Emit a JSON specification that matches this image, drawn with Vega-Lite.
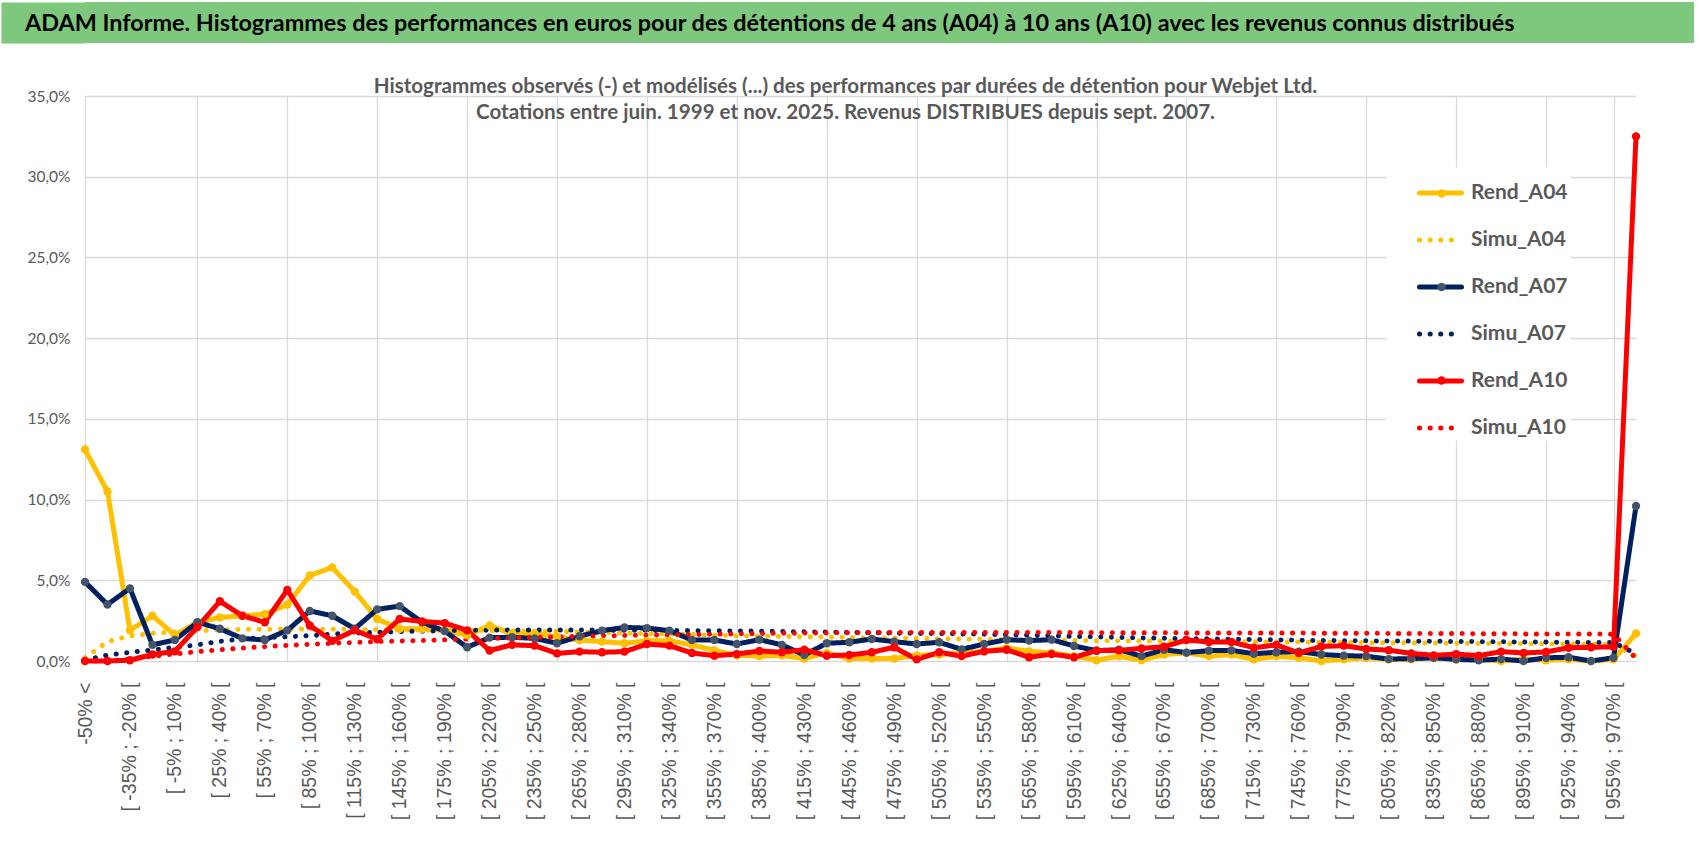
{
  "$schema": "https://vega.github.io/schema/vega-lite/v6.json",
  "background": "white",
  "padding": {"left": 2, "top": 2, "right": 3, "bottom": 0},
  "spacing": 34,
  "config": {"view": {"stroke": null}},
  "datasets": {
    "cats": [
      {"i":0,"c":"-50% <"},{"i":1,"c":"[ -50% ; -35% ["},{"i":2,"c":"[ -35% ; -20% ["},{"i":3,"c":"[ -20% ; -5% ["},{"i":4,"c":"[ -5% ; 10% ["},
      {"i":5,"c":"[ 10% ; 25% ["},{"i":6,"c":"[ 25% ; 40% ["},{"i":7,"c":"[ 40% ; 55% ["},{"i":8,"c":"[ 55% ; 70% ["},{"i":9,"c":"[ 70% ; 85% ["},
      {"i":10,"c":"[ 85% ; 100% ["},{"i":11,"c":"[ 100% ; 115% ["},{"i":12,"c":"[ 115% ; 130% ["},{"i":13,"c":"[ 130% ; 145% ["},{"i":14,"c":"[ 145% ; 160% ["},
      {"i":15,"c":"[ 160% ; 175% ["},{"i":16,"c":"[ 175% ; 190% ["},{"i":17,"c":"[ 190% ; 205% ["},{"i":18,"c":"[ 205% ; 220% ["},{"i":19,"c":"[ 220% ; 235% ["},
      {"i":20,"c":"[ 235% ; 250% ["},{"i":21,"c":"[ 250% ; 265% ["},{"i":22,"c":"[ 265% ; 280% ["},{"i":23,"c":"[ 280% ; 295% ["},{"i":24,"c":"[ 295% ; 310% ["},
      {"i":25,"c":"[ 310% ; 325% ["},{"i":26,"c":"[ 325% ; 340% ["},{"i":27,"c":"[ 340% ; 355% ["},{"i":28,"c":"[ 355% ; 370% ["},{"i":29,"c":"[ 370% ; 385% ["},
      {"i":30,"c":"[ 385% ; 400% ["},{"i":31,"c":"[ 400% ; 415% ["},{"i":32,"c":"[ 415% ; 430% ["},{"i":33,"c":"[ 430% ; 445% ["},{"i":34,"c":"[ 445% ; 460% ["},
      {"i":35,"c":"[ 460% ; 475% ["},{"i":36,"c":"[ 475% ; 490% ["},{"i":37,"c":"[ 490% ; 505% ["},{"i":38,"c":"[ 505% ; 520% ["},{"i":39,"c":"[ 520% ; 535% ["},
      {"i":40,"c":"[ 535% ; 550% ["},{"i":41,"c":"[ 550% ; 565% ["},{"i":42,"c":"[ 565% ; 580% ["},{"i":43,"c":"[ 580% ; 595% ["},{"i":44,"c":"[ 595% ; 610% ["},
      {"i":45,"c":"[ 610% ; 625% ["},{"i":46,"c":"[ 625% ; 640% ["},{"i":47,"c":"[ 640% ; 655% ["},{"i":48,"c":"[ 655% ; 670% ["},{"i":49,"c":"[ 670% ; 685% ["},
      {"i":50,"c":"[ 685% ; 700% ["},{"i":51,"c":"[ 700% ; 715% ["},{"i":52,"c":"[ 715% ; 730% ["},{"i":53,"c":"[ 730% ; 745% ["},{"i":54,"c":"[ 745% ; 760% ["},
      {"i":55,"c":"[ 760% ; 775% ["},{"i":56,"c":"[ 775% ; 790% ["},{"i":57,"c":"[ 790% ; 805% ["},{"i":58,"c":"[ 805% ; 820% ["},{"i":59,"c":"[ 820% ; 835% ["},
      {"i":60,"c":"[ 835% ; 850% ["},{"i":61,"c":"[ 850% ; 865% ["},{"i":62,"c":"[ 865% ; 880% ["},{"i":63,"c":"[ 880% ; 895% ["},{"i":64,"c":"[ 895% ; 910% ["},
      {"i":65,"c":"[ 910% ; 925% ["},{"i":66,"c":"[ 925% ; 940% ["},{"i":67,"c":"[ 940% ; 955% ["},{"i":68,"c":"[ 955% ; 970% ["},{"i":69,"c":"970% <"}
    ],
    "pts": [
      {"i":0,"s":"Rend_A04","v":13.1},{"i":1,"s":"Rend_A04","v":10.5},{"i":2,"s":"Rend_A04","v":1.9},{"i":3,"s":"Rend_A04","v":2.8},{"i":4,"s":"Rend_A04","v":1.6},
      {"i":5,"s":"Rend_A04","v":2.4},{"i":6,"s":"Rend_A04","v":2.7},{"i":7,"s":"Rend_A04","v":2.8},{"i":8,"s":"Rend_A04","v":2.9},{"i":9,"s":"Rend_A04","v":3.5},
      {"i":10,"s":"Rend_A04","v":5.3},{"i":11,"s":"Rend_A04","v":5.8},{"i":12,"s":"Rend_A04","v":4.3},{"i":13,"s":"Rend_A04","v":2.6},{"i":14,"s":"Rend_A04","v":2.0},
      {"i":15,"s":"Rend_A04","v":2.0},{"i":16,"s":"Rend_A04","v":1.9},{"i":17,"s":"Rend_A04","v":1.6},{"i":18,"s":"Rend_A04","v":2.2},{"i":19,"s":"Rend_A04","v":1.7},
      {"i":20,"s":"Rend_A04","v":1.7},{"i":21,"s":"Rend_A04","v":1.5},{"i":22,"s":"Rend_A04","v":1.3},{"i":23,"s":"Rend_A04","v":1.2},{"i":24,"s":"Rend_A04","v":1.1},
      {"i":25,"s":"Rend_A04","v":1.25},{"i":26,"s":"Rend_A04","v":1.25},{"i":27,"s":"Rend_A04","v":1.0},{"i":28,"s":"Rend_A04","v":0.65},{"i":29,"s":"Rend_A04","v":0.35},
      {"i":30,"s":"Rend_A04","v":0.3},{"i":31,"s":"Rend_A04","v":0.35},{"i":32,"s":"Rend_A04","v":0.15},{"i":33,"s":"Rend_A04","v":0.5},{"i":34,"s":"Rend_A04","v":0.15},
      {"i":35,"s":"Rend_A04","v":0.15},{"i":36,"s":"Rend_A04","v":0.15},{"i":37,"s":"Rend_A04","v":0.35},{"i":38,"s":"Rend_A04","v":0.4},{"i":39,"s":"Rend_A04","v":0.5},
      {"i":40,"s":"Rend_A04","v":0.6},{"i":41,"s":"Rend_A04","v":0.8},{"i":42,"s":"Rend_A04","v":0.6},{"i":43,"s":"Rend_A04","v":0.5},{"i":44,"s":"Rend_A04","v":0.3},
      {"i":45,"s":"Rend_A04","v":0.05},{"i":46,"s":"Rend_A04","v":0.3},{"i":47,"s":"Rend_A04","v":0.05},{"i":48,"s":"Rend_A04","v":0.4},{"i":49,"s":"Rend_A04","v":0.5},
      {"i":50,"s":"Rend_A04","v":0.3},{"i":51,"s":"Rend_A04","v":0.4},{"i":52,"s":"Rend_A04","v":0.1},{"i":53,"s":"Rend_A04","v":0.3},{"i":54,"s":"Rend_A04","v":0.2},
      {"i":55,"s":"Rend_A04","v":0.0},{"i":56,"s":"Rend_A04","v":0.1},{"i":57,"s":"Rend_A04","v":0.2},{"i":58,"s":"Rend_A04","v":0.1},{"i":59,"s":"Rend_A04","v":0.1},
      {"i":60,"s":"Rend_A04","v":0.2},{"i":61,"s":"Rend_A04","v":0.1},{"i":62,"s":"Rend_A04","v":0.1},{"i":63,"s":"Rend_A04","v":0.0},{"i":64,"s":"Rend_A04","v":0.1},
      {"i":65,"s":"Rend_A04","v":0.05},{"i":66,"s":"Rend_A04","v":0.1},{"i":67,"s":"Rend_A04","v":0.0},{"i":68,"s":"Rend_A04","v":0.1},{"i":69,"s":"Rend_A04","v":1.7},

      {"i":0,"s":"Simu_A04","v":0.2},{"i":1,"s":"Simu_A04","v":1.2},{"i":2,"s":"Simu_A04","v":1.55},{"i":3,"s":"Simu_A04","v":1.72},{"i":4,"s":"Simu_A04","v":1.8},
      {"i":5,"s":"Simu_A04","v":1.87},{"i":6,"s":"Simu_A04","v":1.92},{"i":7,"s":"Simu_A04","v":1.96},{"i":8,"s":"Simu_A04","v":1.97},{"i":9,"s":"Simu_A04","v":1.98},
      {"i":10,"s":"Simu_A04","v":1.98},{"i":11,"s":"Simu_A04","v":1.97},{"i":12,"s":"Simu_A04","v":1.96},{"i":13,"s":"Simu_A04","v":1.95},{"i":14,"s":"Simu_A04","v":1.93},
      {"i":15,"s":"Simu_A04","v":1.91},{"i":16,"s":"Simu_A04","v":1.9},{"i":17,"s":"Simu_A04","v":1.89},{"i":18,"s":"Simu_A04","v":1.88},{"i":19,"s":"Simu_A04","v":1.86},
      {"i":20,"s":"Simu_A04","v":1.84},{"i":21,"s":"Simu_A04","v":1.82},{"i":22,"s":"Simu_A04","v":1.79},{"i":23,"s":"Simu_A04","v":1.76},{"i":24,"s":"Simu_A04","v":1.73},
      {"i":25,"s":"Simu_A04","v":1.7},{"i":26,"s":"Simu_A04","v":1.67},{"i":27,"s":"Simu_A04","v":1.64},{"i":28,"s":"Simu_A04","v":1.6},{"i":29,"s":"Simu_A04","v":1.57},
      {"i":30,"s":"Simu_A04","v":1.54},{"i":31,"s":"Simu_A04","v":1.52},{"i":32,"s":"Simu_A04","v":1.5},{"i":33,"s":"Simu_A04","v":1.48},{"i":34,"s":"Simu_A04","v":1.46},
      {"i":35,"s":"Simu_A04","v":1.44},{"i":36,"s":"Simu_A04","v":1.42},{"i":37,"s":"Simu_A04","v":1.4},{"i":38,"s":"Simu_A04","v":1.38},{"i":39,"s":"Simu_A04","v":1.36},
      {"i":40,"s":"Simu_A04","v":1.34},{"i":41,"s":"Simu_A04","v":1.32},{"i":42,"s":"Simu_A04","v":1.3},{"i":43,"s":"Simu_A04","v":1.29},{"i":44,"s":"Simu_A04","v":1.27},
      {"i":45,"s":"Simu_A04","v":1.26},{"i":46,"s":"Simu_A04","v":1.25},{"i":47,"s":"Simu_A04","v":1.24},{"i":48,"s":"Simu_A04","v":1.23},{"i":49,"s":"Simu_A04","v":1.22},
      {"i":50,"s":"Simu_A04","v":1.21},{"i":51,"s":"Simu_A04","v":1.2},{"i":52,"s":"Simu_A04","v":1.19},{"i":53,"s":"Simu_A04","v":1.18},{"i":54,"s":"Simu_A04","v":1.17},
      {"i":55,"s":"Simu_A04","v":1.16},{"i":56,"s":"Simu_A04","v":1.15},{"i":57,"s":"Simu_A04","v":1.14},{"i":58,"s":"Simu_A04","v":1.13},{"i":59,"s":"Simu_A04","v":1.12},
      {"i":60,"s":"Simu_A04","v":1.11},{"i":61,"s":"Simu_A04","v":1.1},{"i":62,"s":"Simu_A04","v":1.09},{"i":63,"s":"Simu_A04","v":1.08},{"i":64,"s":"Simu_A04","v":1.07},
      {"i":65,"s":"Simu_A04","v":1.06},{"i":66,"s":"Simu_A04","v":1.05},{"i":67,"s":"Simu_A04","v":1.04},{"i":68,"s":"Simu_A04","v":1.03},{"i":69,"s":"Simu_A04","v":0.3},

      {"i":0,"s":"Rend_A07","v":4.9},{"i":1,"s":"Rend_A07","v":3.5},{"i":2,"s":"Rend_A07","v":4.5},{"i":3,"s":"Rend_A07","v":1.0},{"i":4,"s":"Rend_A07","v":1.3},
      {"i":5,"s":"Rend_A07","v":2.4},{"i":6,"s":"Rend_A07","v":2.0},{"i":7,"s":"Rend_A07","v":1.4},{"i":8,"s":"Rend_A07","v":1.3},{"i":9,"s":"Rend_A07","v":1.9},
      {"i":10,"s":"Rend_A07","v":3.1},{"i":11,"s":"Rend_A07","v":2.8},{"i":12,"s":"Rend_A07","v":2.0},{"i":13,"s":"Rend_A07","v":3.2},{"i":14,"s":"Rend_A07","v":3.4},
      {"i":15,"s":"Rend_A07","v":2.4},{"i":16,"s":"Rend_A07","v":1.85},{"i":17,"s":"Rend_A07","v":0.85},{"i":18,"s":"Rend_A07","v":1.45},{"i":19,"s":"Rend_A07","v":1.47},
      {"i":20,"s":"Rend_A07","v":1.4},{"i":21,"s":"Rend_A07","v":1.1},{"i":22,"s":"Rend_A07","v":1.53},{"i":23,"s":"Rend_A07","v":1.88},{"i":24,"s":"Rend_A07","v":2.08},
      {"i":25,"s":"Rend_A07","v":2.04},{"i":26,"s":"Rend_A07","v":1.88},{"i":27,"s":"Rend_A07","v":1.3},{"i":28,"s":"Rend_A07","v":1.3},{"i":29,"s":"Rend_A07","v":1.05},
      {"i":30,"s":"Rend_A07","v":1.32},{"i":31,"s":"Rend_A07","v":1.0},{"i":32,"s":"Rend_A07","v":0.37},{"i":33,"s":"Rend_A07","v":1.1},{"i":34,"s":"Rend_A07","v":1.16},
      {"i":35,"s":"Rend_A07","v":1.36},{"i":36,"s":"Rend_A07","v":1.2},{"i":37,"s":"Rend_A07","v":1.05},{"i":38,"s":"Rend_A07","v":1.16},{"i":39,"s":"Rend_A07","v":0.72},
      {"i":40,"s":"Rend_A07","v":1.05},{"i":41,"s":"Rend_A07","v":1.32},{"i":42,"s":"Rend_A07","v":1.26},{"i":43,"s":"Rend_A07","v":1.32},{"i":44,"s":"Rend_A07","v":0.93},
      {"i":45,"s":"Rend_A07","v":0.64},{"i":46,"s":"Rend_A07","v":0.7},{"i":47,"s":"Rend_A07","v":0.3},{"i":48,"s":"Rend_A07","v":0.7},{"i":49,"s":"Rend_A07","v":0.52},
      {"i":50,"s":"Rend_A07","v":0.64},{"i":51,"s":"Rend_A07","v":0.66},{"i":52,"s":"Rend_A07","v":0.45},{"i":53,"s":"Rend_A07","v":0.54},{"i":54,"s":"Rend_A07","v":0.58},
      {"i":55,"s":"Rend_A07","v":0.4},{"i":56,"s":"Rend_A07","v":0.33},{"i":57,"s":"Rend_A07","v":0.3},{"i":58,"s":"Rend_A07","v":0.12},{"i":59,"s":"Rend_A07","v":0.15},
      {"i":60,"s":"Rend_A07","v":0.2},{"i":61,"s":"Rend_A07","v":0.1},{"i":62,"s":"Rend_A07","v":0.05},{"i":63,"s":"Rend_A07","v":0.12},{"i":64,"s":"Rend_A07","v":0.0},
      {"i":65,"s":"Rend_A07","v":0.2},{"i":66,"s":"Rend_A07","v":0.23},{"i":67,"s":"Rend_A07","v":0.0},{"i":68,"s":"Rend_A07","v":0.2},{"i":69,"s":"Rend_A07","v":9.6},

      {"i":0,"s":"Simu_A07","v":0.05},{"i":1,"s":"Simu_A07","v":0.37},{"i":2,"s":"Simu_A07","v":0.54},{"i":3,"s":"Simu_A07","v":0.68},{"i":4,"s":"Simu_A07","v":0.85},
      {"i":5,"s":"Simu_A07","v":1.0},{"i":6,"s":"Simu_A07","v":1.22},{"i":7,"s":"Simu_A07","v":1.36},{"i":8,"s":"Simu_A07","v":1.45},{"i":9,"s":"Simu_A07","v":1.5},
      {"i":10,"s":"Simu_A07","v":1.57},{"i":11,"s":"Simu_A07","v":1.67},{"i":12,"s":"Simu_A07","v":1.73},{"i":13,"s":"Simu_A07","v":1.78},{"i":14,"s":"Simu_A07","v":1.82},
      {"i":15,"s":"Simu_A07","v":1.85},{"i":16,"s":"Simu_A07","v":1.88},{"i":17,"s":"Simu_A07","v":1.9},{"i":18,"s":"Simu_A07","v":1.91},{"i":19,"s":"Simu_A07","v":1.92},
      {"i":20,"s":"Simu_A07","v":1.92},{"i":21,"s":"Simu_A07","v":1.92},{"i":22,"s":"Simu_A07","v":1.92},{"i":23,"s":"Simu_A07","v":1.91},{"i":24,"s":"Simu_A07","v":1.91},
      {"i":25,"s":"Simu_A07","v":1.9},{"i":26,"s":"Simu_A07","v":1.89},{"i":27,"s":"Simu_A07","v":1.88},{"i":28,"s":"Simu_A07","v":1.87},{"i":29,"s":"Simu_A07","v":1.86},
      {"i":30,"s":"Simu_A07","v":1.85},{"i":31,"s":"Simu_A07","v":1.83},{"i":32,"s":"Simu_A07","v":1.81},{"i":33,"s":"Simu_A07","v":1.79},{"i":34,"s":"Simu_A07","v":1.77},
      {"i":35,"s":"Simu_A07","v":1.75},{"i":36,"s":"Simu_A07","v":1.73},{"i":37,"s":"Simu_A07","v":1.71},{"i":38,"s":"Simu_A07","v":1.7},{"i":39,"s":"Simu_A07","v":1.68},
      {"i":40,"s":"Simu_A07","v":1.66},{"i":41,"s":"Simu_A07","v":1.63},{"i":42,"s":"Simu_A07","v":1.6},{"i":43,"s":"Simu_A07","v":1.56},{"i":44,"s":"Simu_A07","v":1.52},
      {"i":45,"s":"Simu_A07","v":1.49},{"i":46,"s":"Simu_A07","v":1.46},{"i":47,"s":"Simu_A07","v":1.43},{"i":48,"s":"Simu_A07","v":1.41},{"i":49,"s":"Simu_A07","v":1.39},
      {"i":50,"s":"Simu_A07","v":1.37},{"i":51,"s":"Simu_A07","v":1.35},{"i":52,"s":"Simu_A07","v":1.33},{"i":53,"s":"Simu_A07","v":1.31},{"i":54,"s":"Simu_A07","v":1.29},
      {"i":55,"s":"Simu_A07","v":1.27},{"i":56,"s":"Simu_A07","v":1.26},{"i":57,"s":"Simu_A07","v":1.25},{"i":58,"s":"Simu_A07","v":1.24},{"i":59,"s":"Simu_A07","v":1.23},
      {"i":60,"s":"Simu_A07","v":1.22},{"i":61,"s":"Simu_A07","v":1.21},{"i":62,"s":"Simu_A07","v":1.2},{"i":63,"s":"Simu_A07","v":1.19},{"i":64,"s":"Simu_A07","v":1.18},
      {"i":65,"s":"Simu_A07","v":1.17},{"i":66,"s":"Simu_A07","v":1.16},{"i":67,"s":"Simu_A07","v":1.15},{"i":68,"s":"Simu_A07","v":1.14},{"i":69,"s":"Simu_A07","v":0.45},

      {"i":0,"s":"Rend_A10","v":0.0},{"i":1,"s":"Rend_A10","v":0.0},{"i":2,"s":"Rend_A10","v":0.05},{"i":3,"s":"Rend_A10","v":0.4},{"i":4,"s":"Rend_A10","v":0.6},
      {"i":5,"s":"Rend_A10","v":2.1},{"i":6,"s":"Rend_A10","v":3.7},{"i":7,"s":"Rend_A10","v":2.8},{"i":8,"s":"Rend_A10","v":2.4},{"i":9,"s":"Rend_A10","v":4.4},
      {"i":10,"s":"Rend_A10","v":2.2},{"i":11,"s":"Rend_A10","v":1.25},{"i":12,"s":"Rend_A10","v":1.9},{"i":13,"s":"Rend_A10","v":1.35},{"i":14,"s":"Rend_A10","v":2.6},
      {"i":15,"s":"Rend_A10","v":2.45},{"i":16,"s":"Rend_A10","v":2.35},{"i":17,"s":"Rend_A10","v":1.9},{"i":18,"s":"Rend_A10","v":0.65},{"i":19,"s":"Rend_A10","v":1.0},
      {"i":20,"s":"Rend_A10","v":0.95},{"i":21,"s":"Rend_A10","v":0.47},{"i":22,"s":"Rend_A10","v":0.58},{"i":23,"s":"Rend_A10","v":0.54},{"i":24,"s":"Rend_A10","v":0.58},
      {"i":25,"s":"Rend_A10","v":1.05},{"i":26,"s":"Rend_A10","v":0.95},{"i":27,"s":"Rend_A10","v":0.5},{"i":28,"s":"Rend_A10","v":0.33},{"i":29,"s":"Rend_A10","v":0.43},
      {"i":30,"s":"Rend_A10","v":0.62},{"i":31,"s":"Rend_A10","v":0.54},{"i":32,"s":"Rend_A10","v":0.7},{"i":33,"s":"Rend_A10","v":0.33},{"i":34,"s":"Rend_A10","v":0.37},
      {"i":35,"s":"Rend_A10","v":0.54},{"i":36,"s":"Rend_A10","v":0.85},{"i":37,"s":"Rend_A10","v":0.1},{"i":38,"s":"Rend_A10","v":0.54},{"i":39,"s":"Rend_A10","v":0.3},
      {"i":40,"s":"Rend_A10","v":0.6},{"i":41,"s":"Rend_A10","v":0.7},{"i":42,"s":"Rend_A10","v":0.23},{"i":43,"s":"Rend_A10","v":0.43},{"i":44,"s":"Rend_A10","v":0.23},
      {"i":45,"s":"Rend_A10","v":0.64},{"i":46,"s":"Rend_A10","v":0.66},{"i":47,"s":"Rend_A10","v":0.78},{"i":48,"s":"Rend_A10","v":0.88},{"i":49,"s":"Rend_A10","v":1.3},
      {"i":50,"s":"Rend_A10","v":1.18},{"i":51,"s":"Rend_A10","v":1.18},{"i":52,"s":"Rend_A10","v":0.82},{"i":53,"s":"Rend_A10","v":1.0},{"i":54,"s":"Rend_A10","v":0.5},
      {"i":55,"s":"Rend_A10","v":0.9},{"i":56,"s":"Rend_A10","v":0.95},{"i":57,"s":"Rend_A10","v":0.74},{"i":58,"s":"Rend_A10","v":0.67},{"i":59,"s":"Rend_A10","v":0.47},
      {"i":60,"s":"Rend_A10","v":0.35},{"i":61,"s":"Rend_A10","v":0.43},{"i":62,"s":"Rend_A10","v":0.33},{"i":63,"s":"Rend_A10","v":0.58},{"i":64,"s":"Rend_A10","v":0.5},
      {"i":65,"s":"Rend_A10","v":0.56},{"i":66,"s":"Rend_A10","v":0.82},{"i":67,"s":"Rend_A10","v":0.85},{"i":68,"s":"Rend_A10","v":0.88},{"i":69,"s":"Rend_A10","v":32.5},

      {"i":0,"s":"Simu_A10","v":0.0},{"i":1,"s":"Simu_A10","v":0.0},{"i":2,"s":"Simu_A10","v":0.12},{"i":3,"s":"Simu_A10","v":0.29},{"i":4,"s":"Simu_A10","v":0.43},
      {"i":5,"s":"Simu_A10","v":0.58},{"i":6,"s":"Simu_A10","v":0.7},{"i":7,"s":"Simu_A10","v":0.8},{"i":8,"s":"Simu_A10","v":0.89},{"i":9,"s":"Simu_A10","v":0.97},
      {"i":10,"s":"Simu_A10","v":1.03},{"i":11,"s":"Simu_A10","v":1.1},{"i":12,"s":"Simu_A10","v":1.15},{"i":13,"s":"Simu_A10","v":1.2},{"i":14,"s":"Simu_A10","v":1.24},
      {"i":15,"s":"Simu_A10","v":1.27},{"i":16,"s":"Simu_A10","v":1.31},{"i":17,"s":"Simu_A10","v":1.35},{"i":18,"s":"Simu_A10","v":1.39},{"i":19,"s":"Simu_A10","v":1.43},
      {"i":20,"s":"Simu_A10","v":1.47},{"i":21,"s":"Simu_A10","v":1.5},{"i":22,"s":"Simu_A10","v":1.53},{"i":23,"s":"Simu_A10","v":1.56},{"i":24,"s":"Simu_A10","v":1.58},
      {"i":25,"s":"Simu_A10","v":1.6},{"i":26,"s":"Simu_A10","v":1.62},{"i":27,"s":"Simu_A10","v":1.64},{"i":28,"s":"Simu_A10","v":1.66},{"i":29,"s":"Simu_A10","v":1.68},
      {"i":30,"s":"Simu_A10","v":1.7},{"i":31,"s":"Simu_A10","v":1.72},{"i":32,"s":"Simu_A10","v":1.73},{"i":33,"s":"Simu_A10","v":1.74},{"i":34,"s":"Simu_A10","v":1.75},
      {"i":35,"s":"Simu_A10","v":1.76},{"i":36,"s":"Simu_A10","v":1.76},{"i":37,"s":"Simu_A10","v":1.77},{"i":38,"s":"Simu_A10","v":1.77},{"i":39,"s":"Simu_A10","v":1.77},
      {"i":40,"s":"Simu_A10","v":1.77},{"i":41,"s":"Simu_A10","v":1.77},{"i":42,"s":"Simu_A10","v":1.77},{"i":43,"s":"Simu_A10","v":1.76},{"i":44,"s":"Simu_A10","v":1.76},
      {"i":45,"s":"Simu_A10","v":1.76},{"i":46,"s":"Simu_A10","v":1.75},{"i":47,"s":"Simu_A10","v":1.75},{"i":48,"s":"Simu_A10","v":1.75},{"i":49,"s":"Simu_A10","v":1.74},
      {"i":50,"s":"Simu_A10","v":1.74},{"i":51,"s":"Simu_A10","v":1.74},{"i":52,"s":"Simu_A10","v":1.73},{"i":53,"s":"Simu_A10","v":1.73},{"i":54,"s":"Simu_A10","v":1.73},
      {"i":55,"s":"Simu_A10","v":1.72},{"i":56,"s":"Simu_A10","v":1.72},{"i":57,"s":"Simu_A10","v":1.72},{"i":58,"s":"Simu_A10","v":1.71},{"i":59,"s":"Simu_A10","v":1.71},
      {"i":60,"s":"Simu_A10","v":1.7},{"i":61,"s":"Simu_A10","v":1.7},{"i":62,"s":"Simu_A10","v":1.69},{"i":63,"s":"Simu_A10","v":1.69},{"i":64,"s":"Simu_A10","v":1.68},
      {"i":65,"s":"Simu_A10","v":1.68},{"i":66,"s":"Simu_A10","v":1.67},{"i":67,"s":"Simu_A10","v":1.67},{"i":68,"s":"Simu_A10","v":1.66},{"i":69,"s":"Simu_A10","v":0.15}
    ]
  },
  "vconcat": [
    {
      "width": 1609,
      "height": 41,
      "data": {"values": [{}]},
      "title": {
        "text": "ADAM Informe. Histogrammes des performances en euros pour des détentions de 4 ans (A04) à 10 ans (A10) avec les revenus connus distribués",
        "anchor": "start",
        "frame": "group",
        "dx": -60,
        "offset": -34,
        "font": "Lato",
        "fontSize": 23.4,
        "fontWeight": "bold",
        "color": "#000000"
      },
      "layer": [
        {
          "mark": {"type": "rect", "fill": "#7DC87D", "strokeWidth": 0},
          "encoding": {}
        },
        {
          "mark": {"type": "rule", "opacity": 0},
          "encoding": {
            "y": {
              "datum": 0.5,
              "type": "quantitative",
              "scale": {"domain": [0, 1]},
              "axis": {
                "orient": "left",
                "offset": 42,
                "domain": true,
                "domainColor": "#7DC87D",
                "domainWidth": 84,
                "domainCap": "butt",
                "labels": false,
                "ticks": false,
                "grid": false,
                "title": null
              }
            }
          }
        }
      ]
    },
    {
      "width": 1551,
      "height": 565,
      "title": {
        "text": [
          "Histogrammes observés (-) et modélisés (...) des performances par durées de détention pour Webjet Ltd.",
          "Cotations entre juin. 1999 et nov. 2025. Revenus DISTRIBUES depuis sept. 2007."
        ],
        "anchor": "middle",
        "frame": "group",
        "dx": -15,
        "offset": -35,
        "font": "Lato",
        "fontSize": 20.6,
        "fontWeight": "bold",
        "color": "#595959",
        "lineHeight": 26
      },
      "data": {"name": "pts"},
      "transform": [
        {"lookup": "i", "from": {"data": {"name": "cats"}, "key": "i", "fields": ["c"]}}
      ],
      "resolve": {"axis": {"x": "independent"}},
      "layer": [
        {
          "mark": {"type": "line", "strokeWidth": 5, "strokeCap": "round", "strokeJoin": "round"},
          "encoding": {
            "x": {
              "field": "c",
              "type": "ordinal",
              "sort": {"field": "i", "op": "min"},
              "scale": {"type": "point", "padding": 0},
              "axis": {
                "orient": "bottom",
                "title": null,
                "values": ["-50% <","[ -35% ; -20% [","[ -5% ; 10% [","[ 25% ; 40% [","[ 55% ; 70% [","[ 85% ; 100% [","[ 115% ; 130% [","[ 145% ; 160% [","[ 175% ; 190% [","[ 205% ; 220% [","[ 235% ; 250% [","[ 265% ; 280% [","[ 295% ; 310% [","[ 325% ; 340% [","[ 355% ; 370% [","[ 385% ; 400% [","[ 415% ; 430% [","[ 445% ; 460% [","[ 475% ; 490% [","[ 505% ; 520% [","[ 535% ; 550% [","[ 565% ; 580% [","[ 595% ; 610% [","[ 625% ; 640% [","[ 655% ; 670% [","[ 685% ; 700% [","[ 715% ; 730% [","[ 745% ; 760% [","[ 775% ; 790% [","[ 805% ; 820% [","[ 835% ; 850% [","[ 865% ; 880% [","[ 895% ; 910% [","[ 925% ; 940% [","[ 955% ; 970% ["],
                "labelAngle": -90,
                "labelPadding": 21,
                "labelFont": "Liberation Sans",
                "labelFontSize": 19.5,
                "labelColor": "#595959",
                "labelOverlap": false,
                "ticks": false,
                "domain": false,
                "grid": false
              }
            },
            "y": {
              "field": "v",
              "type": "quantitative",
              "scale": {"domain": [0, 35], "nice": false},
              "axis": {
                "values": [0, 5, 10, 15, 20, 25, 30, 35],
                "labelExpr": "replace(format(datum.value, '.1f'), '.', ',') + '%'",
                "grid": true,
                "gridColor": "#D9D9D9",
                "gridWidth": 1.3,
                "domain": false,
                "ticks": false,
                "labelPadding": 15,
                "labelFont": "Lato",
                "labelFontSize": 15.5,
                "labelColor": "#595959",
                "title": ".",
                "titleColor": "#ffffff",
                "titleFontSize": 10,
                "titlePadding": 15
              }
            },
            "order": {"field": "i"},
            "color": {
              "field": "s",
              "type": "nominal",
              "scale": {
                "domain": ["Rend_A04", "Simu_A04", "Rend_A07", "Simu_A07", "Rend_A10", "Simu_A10"],
                "range": ["#FFC000", "#FFC000", "#002060", "#002060", "#FF0000", "#FF0000"]
              },
              "legend": {
                "orient": "none",
                "legendX": 1301.5,
                "legendY": 165.5,
                "title": null,
                "padding": 2,
                "rowPadding": 13,
                "fillColor": "white",
                "symbolType": "stroke",
                "symbolSize": 1764,
                "symbolStrokeWidth": 5,
                "symbolOffset": 28.5,
                "labelOffset": 7,
                "labelFont": "Lato",
                "labelFontSize": 21,
                "labelFontWeight": "bold",
                "labelColor": "#595959",
                "labelExpr": "datum.label + '\u2003\u2003\u2009'",
                "encode": {"symbols": {"update": {"strokeCap": {"value": "round"}}}}
              }
            },
            "strokeDash": {
              "field": "s",
              "type": "nominal",
              "scale": {
                "domain": ["Rend_A04", "Simu_A04", "Rend_A07", "Simu_A07", "Rend_A10", "Simu_A10"],
                "range": [[1, 0], [0.1, 10.5], [1, 0], [0.1, 10.5], [1, 0], [0.1, 10.5]]
              },
              "legend": {
                "orient": "none",
                "legendX": 1301.5,
                "legendY": 165.5,
                "title": null,
                "padding": 2,
                "rowPadding": 13,
                "fillColor": "white",
                "symbolType": "stroke",
                "symbolSize": 1764,
                "symbolStrokeWidth": 5,
                "symbolOffset": 28.5,
                "labelOffset": 7,
                "labelFont": "Lato",
                "labelFontSize": 21,
                "labelFontWeight": "bold",
                "labelColor": "#595959",
                "labelExpr": "datum.label + '\u2003\u2003\u2009'",
                "encode": {"symbols": {"update": {"strokeCap": {"value": "round"}}}}
              }
            }
          }
        },
        {
          "transform": [{"filter": {"field": "s", "oneOf": ["Rend_A04", "Rend_A07", "Rend_A10"]}}],
          "mark": {"type": "point", "filled": true, "size": 70, "opacity": 1, "shape": "circle"},
          "encoding": {
            "x": {
              "field": "c",
              "type": "ordinal",
              "sort": {"field": "i", "op": "min"},
              "axis": {
                "orient": "bottom",
                "title": null,
                "values": ["-50% <","[ 10% ; 25% [","[ 70% ; 85% [","[ 130% ; 145% [","[ 190% ; 205% [","[ 250% ; 265% [","[ 310% ; 325% [","[ 370% ; 385% [","[ 430% ; 445% [","[ 490% ; 505% [","[ 550% ; 565% [","[ 610% ; 625% [","[ 670% ; 685% [","[ 730% ; 745% [","[ 790% ; 805% [","[ 850% ; 865% [","[ 910% ; 925% [","[ 955% ; 970% ["],
                "grid": true,
                "gridColor": "#D9D9D9",
                "gridWidth": 1.3,
                "labels": false,
                "ticks": false,
                "domain": false
              }
            },
            "y": {"field": "v", "type": "quantitative"},
            "fill": {
              "field": "s",
              "type": "nominal",
              "scale": {
                "domain": ["Rend_A04", "Rend_A07", "Rend_A10"],
                "range": ["#FFC000", "#44546A", "#FF0000"]
              },
              "legend": {
                "orient": "none",
                "legendX": 1352,
                "legendY": 187,
                "title": null,
                "padding": 0,
                "rowPadding": 84.5,
                "symbolType": "circle",
                "symbolSize": 70,
                "symbolStrokeWidth": 0,
                "symbolOpacity": 1,
                "labelFontSize": 8,
                "labelExpr": "''"
              }
            }
          }
        }
      ]
    }
  ]
}
